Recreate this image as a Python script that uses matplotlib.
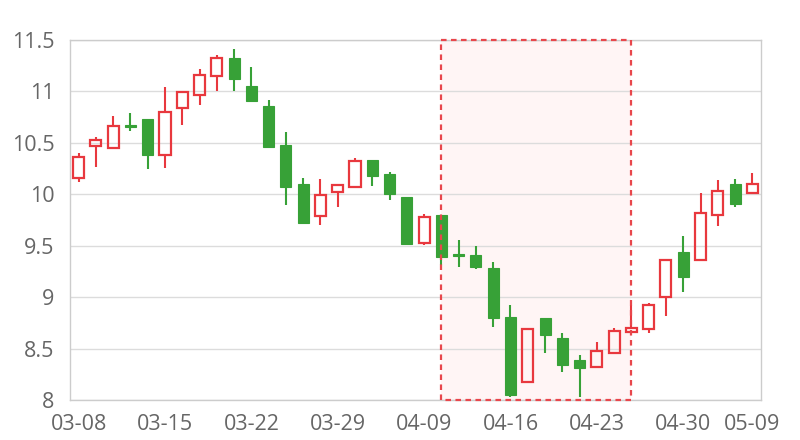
import matplotlib
matplotlib.use("Agg")
import matplotlib.pyplot as plt
import numpy as np

# Data
dates = [
    "03-08", "03-11", "03-12", "03-13", "03-14", "03-15", "03-18", "03-19", "03-20", "03-21",
    "03-22", "03-25", "03-26", "03-27", "03-28", "03-29", "04-02", "04-03", "04-04", "04-08",
    "04-09", "04-10", "04-11", "04-12", "04-15", "04-16", "04-17", "04-18", "04-19", "04-22",
    "04-23", "04-24", "04-25", "04-26", "04-29", "04-30", "05-06", "05-07", "05-08", "05-09",
]
opens = [10.16, 10.47, 10.45, 10.67, 10.73, 10.38, 10.84, 10.97, 11.15, 11.33,
         11.05, 10.86, 10.48, 10.10, 9.79, 10.02, 10.07, 10.33, 10.20, 9.97,
         9.53, 9.80, 9.42, 9.41, 9.28, 8.81, 8.17, 8.80, 8.60, 8.39,
         8.32, 8.46, 8.66, 8.69, 9.00, 9.44, 9.36, 9.80, 10.10, 10.01]
closes = [10.36, 10.53, 10.66, 10.65, 10.38, 10.80, 10.99, 11.16, 11.33, 11.12,
          10.91, 10.46, 10.07, 9.72, 9.99, 10.09, 10.32, 10.18, 10.00, 9.52,
          9.78, 9.39, 9.40, 9.29, 8.80, 8.05, 8.69, 8.63, 8.34, 8.31,
          8.48, 8.67, 8.70, 8.92, 9.36, 9.20, 9.82, 10.03, 9.91, 10.10]
highs = [10.40, 10.56, 10.76, 10.79, 10.73, 11.04, 11.00, 11.22, 11.35, 11.41,
         11.24, 10.92, 10.61, 10.16, 10.15, 10.09, 10.35, 10.33, 10.22, 9.97,
         9.81, 9.80, 9.56, 9.50, 9.34, 8.92, 8.69, 8.80, 8.65, 8.44,
         8.56, 8.70, 8.92, 8.94, 9.36, 9.59, 10.01, 10.14, 10.15, 10.21]
lows = [10.12, 10.27, 10.44, 10.62, 10.25, 10.26, 10.67, 10.87, 11.00, 11.00,
        10.91, 10.46, 9.90, 9.72, 9.70, 9.88, 10.07, 10.08, 9.94, 9.52,
        9.51, 9.31, 9.29, 9.27, 8.71, 8.03, 8.17, 8.46, 8.27, 8.03,
        8.32, 8.45, 8.66, 8.65, 8.82, 9.05, 9.36, 9.69, 9.88, 10.01]
tick_idx = [0, 5, 10, 15, 20, 25, 30, 35, 39]
mark_start, mark_end = "04-10", "04-25"

up_color = "#e8383e"
down_color = "#37a137"

plt.rcParams["font.family"] = ["Open Sans", "DejaVu Sans"]

fig = plt.figure(figsize=(8, 4.4), dpi=100)
ax = fig.add_axes([0.0875, 0.091, 0.8637, 0.818])

x = np.arange(len(dates))
o = np.array(opens)
c = np.array(closes)
h = np.array(highs)
l = np.array(lows)
up = c >= o
top = np.maximum(o, c)
bot = np.minimum(o, c)

# mark area
x0, x1 = dates.index(mark_start), dates.index(mark_end)
ax.axvspan(x0, x1, ymin=0, ymax=1, facecolor="#fff5f5", edgecolor="none", zorder=0)
ax.plot([x0, x0, x1, x1, x0], [8, 11.5, 11.5, 8, 8], color="#e8474c",
        lw=1.6, ls=(0, (2.5, 2)), zorder=4, clip_on=False)

# wicks
for i in range(len(x)):
    col = up_color if up[i] else down_color
    ax.vlines(x[i], top[i], h[i], color=col, lw=1.5, zorder=2)
    ax.vlines(x[i], l[i], bot[i], color=col, lw=1.5, zorder=2)

# bodies
width = 0.64
heights = np.maximum(top - bot, 0.012)
ax.bar(x[up], heights[up], bottom=bot[up], width=width, facecolor="none",
       edgecolor=up_color, linewidth=1.6, zorder=3)
ax.bar(x[~up], heights[~up], bottom=bot[~up], width=width, facecolor=down_color,
       edgecolor=down_color, linewidth=0.8, zorder=3)

ax.set_xlim(-0.5, len(dates) - 0.5)
ax.set_ylim(8, 11.5)
ax.set_yticks([8, 8.5, 9, 9.5, 10, 10.5, 11, 11.5])
ax.set_yticklabels(["8", "8.5", "9", "9.5", "10", "10.5", "11", "11.5"])
ax.set_xticks(tick_idx)
ax.set_xticklabels([dates[i] for i in tick_idx])
ax.tick_params(axis="both", length=0, labelsize=15.5, labelcolor="#666666")
ax.tick_params(axis="y", pad=11)
ax.tick_params(axis="x", pad=10)
ax.grid(axis="y", color="#dcdcdc", lw=1)
ax.set_axisbelow(True)
for s in ax.spines.values():
    s.set_color("#cccccc")
    s.set_linewidth(1)

fig.savefig("out.png", dpi=100)
